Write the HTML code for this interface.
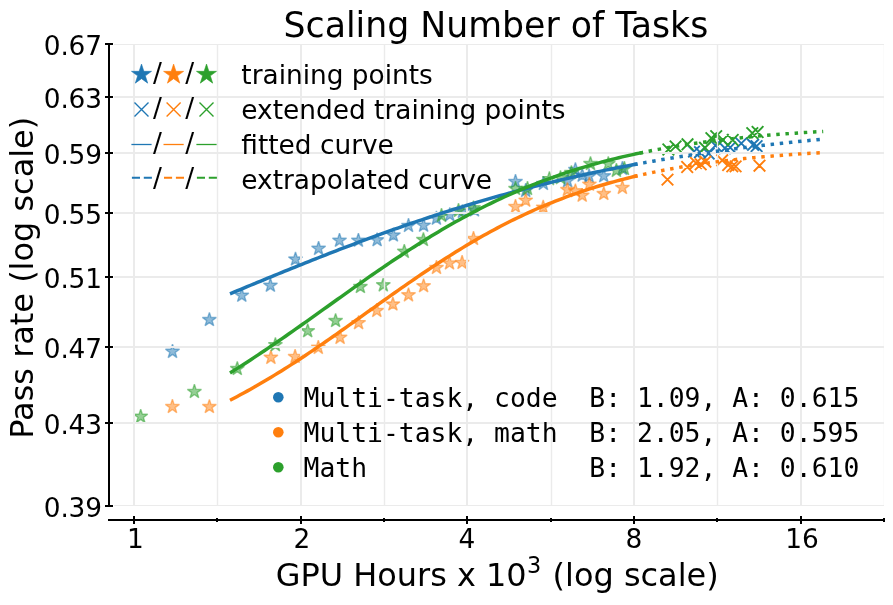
<!DOCTYPE html>
<html lang="en"><head><meta charset="utf-8"><title>Scaling Number of Tasks</title>
<style>html,body{margin:0;padding:0;background:#fff}body{width:893px;height:605px;overflow:hidden}svg{display:block;will-change:transform}text{font-family:"DejaVu Sans","Liberation Sans",sans-serif;fill:#000}.mono{font-family:"DejaVu Sans Mono","Liberation Mono",monospace}.tk{font-size:26.39px}.lg{font-size:26.39px}.lb{font-size:31.94px}.tt{font-size:34.72px}</style></head><body>
<svg width="893" height="605" viewBox="0 0 893 605">
<rect width="893" height="605" fill="#fff"/>
<g fill="#1f77b4" stroke="#1f77b4" stroke-width="1.39" stroke-linejoin="bevel" fill-opacity="0.5" stroke-opacity="0.5">
<polygon points="172.50,344.20 174.16,349.31 179.54,349.31 175.19,352.47 176.85,357.59 172.50,354.43 168.15,357.59 169.81,352.47 165.46,349.31 170.84,349.31"/>
<polygon points="209.40,312.40 211.06,317.51 216.44,317.51 212.09,320.67 213.75,325.79 209.40,322.63 205.05,325.79 206.71,320.67 202.36,317.51 207.74,317.51"/>
<polygon points="241.80,288.10 243.46,293.21 248.84,293.21 244.49,296.37 246.15,301.49 241.80,298.33 237.45,301.49 239.11,296.37 234.76,293.21 240.14,293.21"/>
<polygon points="270.40,278.10 272.06,283.21 277.44,283.21 273.09,286.37 274.75,291.49 270.40,288.33 266.05,291.49 267.71,286.37 263.36,283.21 268.74,283.21"/>
<polygon points="295.50,251.90 297.16,257.01 302.54,257.01 298.19,260.17 299.85,265.29 295.50,262.13 291.15,265.29 292.81,260.17 288.46,257.01 293.84,257.01"/>
<polygon points="318.60,241.20 320.26,246.31 325.64,246.31 321.29,249.47 322.95,254.59 318.60,251.43 314.25,254.59 315.91,249.47 311.56,246.31 316.94,246.31"/>
<polygon points="339.50,233.10 341.16,238.21 346.54,238.21 342.19,241.37 343.85,246.49 339.50,243.33 335.15,246.49 336.81,241.37 332.46,238.21 337.84,238.21"/>
<polygon points="358.40,233.10 360.06,238.21 365.44,238.21 361.09,241.37 362.75,246.49 358.40,243.33 354.05,246.49 355.71,241.37 351.36,238.21 356.74,238.21"/>
<polygon points="377.10,232.60 378.76,237.71 384.14,237.71 379.79,240.87 381.45,245.99 377.10,242.83 372.75,245.99 374.41,240.87 370.06,237.71 375.44,237.71"/>
<polygon points="393.40,227.90 395.06,233.01 400.44,233.01 396.09,236.17 397.75,241.29 393.40,238.13 389.05,241.29 390.71,236.17 386.36,233.01 391.74,233.01"/>
<polygon points="408.50,218.30 410.16,223.41 415.54,223.41 411.19,226.57 412.85,231.69 408.50,228.53 404.15,231.69 405.81,226.57 401.46,223.41 406.84,223.41"/>
<polygon points="423.60,218.00 425.26,223.11 430.64,223.11 426.29,226.27 427.95,231.39 423.60,228.23 419.25,231.39 420.91,226.27 416.56,223.11 421.94,223.11"/>
<polygon points="436.40,211.00 438.06,216.11 443.44,216.11 439.09,219.27 440.75,224.39 436.40,221.23 432.05,224.39 433.71,219.27 429.36,216.11 434.74,216.11"/>
<polygon points="449.80,207.50 451.46,212.61 456.84,212.61 452.49,215.77 454.15,220.89 449.80,217.73 445.45,220.89 447.11,215.77 442.76,212.61 448.14,212.61"/>
<polygon points="462.40,204.40 464.06,209.51 469.44,209.51 465.09,212.67 466.75,217.79 462.40,214.63 458.05,217.79 459.71,212.67 455.36,209.51 460.74,209.51"/>
<polygon points="474.50,202.90 476.16,208.01 481.54,208.01 477.19,211.17 478.85,216.29 474.50,213.13 470.15,216.29 471.81,211.17 467.46,208.01 472.84,208.01"/>
<polygon points="515.50,174.30 517.16,179.41 522.54,179.41 518.19,182.57 519.85,187.69 515.50,184.53 511.15,187.69 512.81,182.57 508.46,179.41 513.84,179.41"/>
<polygon points="525.70,183.30 527.36,188.41 532.74,188.41 528.39,191.57 530.05,196.69 525.70,193.53 521.35,196.69 523.01,191.57 518.66,188.41 524.04,188.41"/>
<polygon points="543.40,176.30 545.06,181.41 550.44,181.41 546.09,184.57 547.75,189.69 543.40,186.53 539.05,189.69 540.71,184.57 536.36,181.41 541.74,181.41"/>
<polygon points="567.60,173.50 569.26,178.61 574.64,178.61 570.29,181.77 571.95,186.89 567.60,183.73 563.25,186.89 564.91,181.77 560.56,178.61 565.94,178.61"/>
<polygon points="575.40,162.40 577.06,167.51 582.44,167.51 578.09,170.67 579.75,175.79 575.40,172.63 571.05,175.79 572.71,170.67 568.36,167.51 573.74,167.51"/>
<polygon points="582.20,168.00 583.86,173.11 589.24,173.11 584.89,176.27 586.55,181.39 582.20,178.23 577.85,181.39 579.51,176.27 575.16,173.11 580.54,173.11"/>
<polygon points="589.10,168.80 590.76,173.91 596.14,173.91 591.79,177.07 593.45,182.19 589.10,179.03 584.75,182.19 586.41,177.07 582.06,173.91 587.44,173.91"/>
<polygon points="603.80,168.60 605.46,173.71 610.84,173.71 606.49,176.87 608.15,181.99 603.80,178.83 599.45,181.99 601.11,176.87 596.76,173.71 602.14,173.71"/>
<polygon points="622.40,161.20 624.06,166.31 629.44,166.31 625.09,169.47 626.75,174.59 622.40,171.43 618.05,174.59 619.71,169.47 615.36,166.31 620.74,166.31"/>
</g>
<path d="M688.20 145.80L699.80 157.40M688.20 157.40L699.80 145.80M694.20 146.40L705.80 158.00M694.20 158.00L705.80 146.40M702.90 147.80L714.50 159.40M702.90 159.40L714.50 147.80M709.70 139.70L721.30 151.30M709.70 151.30L721.30 139.70M719.10 142.40L730.70 154.00M719.10 154.00L730.70 142.40M724.40 141.70L736.00 153.30M724.40 153.30L736.00 141.70M735.50 137.60L747.10 149.20M735.50 149.20L747.10 137.60M747.30 139.00L758.90 150.60M747.30 150.60L758.90 139.00M750.80 140.30L762.40 151.90M750.80 151.90L762.40 140.30" stroke="#1f77b4" stroke-width="1.9" fill="none"/>
<g fill="#ff7f0e" stroke="#ff7f0e" stroke-width="1.39" stroke-linejoin="bevel" fill-opacity="0.5" stroke-opacity="0.5">
<polygon points="172.40,399.30 174.06,404.41 179.44,404.41 175.09,407.57 176.75,412.69 172.40,409.53 168.05,412.69 169.71,407.57 165.36,404.41 170.74,404.41"/>
<polygon points="209.40,399.40 211.06,404.51 216.44,404.51 212.09,407.67 213.75,412.79 209.40,409.63 205.05,412.79 206.71,407.67 202.36,404.51 207.74,404.51"/>
<polygon points="270.90,350.20 272.56,355.31 277.94,355.31 273.59,358.47 275.25,363.59 270.90,360.43 266.55,363.59 268.21,358.47 263.86,355.31 269.24,355.31"/>
<polygon points="295.10,349.30 296.76,354.41 302.14,354.41 297.79,357.57 299.45,362.69 295.10,359.53 290.75,362.69 292.41,357.57 288.06,354.41 293.44,354.41"/>
<polygon points="318.30,340.20 319.96,345.31 325.34,345.31 320.99,348.47 322.65,353.59 318.30,350.43 313.95,353.59 315.61,348.47 311.26,345.31 316.64,345.31"/>
<polygon points="340.10,330.20 341.76,335.31 347.14,335.31 342.79,338.47 344.45,343.59 340.10,340.43 335.75,343.59 337.41,338.47 333.06,335.31 338.44,335.31"/>
<polygon points="358.60,315.50 360.26,320.61 365.64,320.61 361.29,323.77 362.95,328.89 358.60,325.73 354.25,328.89 355.91,323.77 351.56,320.61 356.94,320.61"/>
<polygon points="376.80,303.30 378.46,308.41 383.84,308.41 379.49,311.57 381.15,316.69 376.80,313.53 372.45,316.69 374.11,311.57 369.76,308.41 375.14,308.41"/>
<polygon points="392.90,296.90 394.56,302.01 399.94,302.01 395.59,305.17 397.25,310.29 392.90,307.13 388.55,310.29 390.21,305.17 385.86,302.01 391.24,302.01"/>
<polygon points="408.50,287.70 410.16,292.81 415.54,292.81 411.19,295.97 412.85,301.09 408.50,297.93 404.15,301.09 405.81,295.97 401.46,292.81 406.84,292.81"/>
<polygon points="423.60,278.60 425.26,283.71 430.64,283.71 426.29,286.87 427.95,291.99 423.60,288.83 419.25,291.99 420.91,286.87 416.56,283.71 421.94,283.71"/>
<polygon points="436.50,260.30 438.16,265.41 443.54,265.41 439.19,268.57 440.85,273.69 436.50,270.53 432.15,273.69 433.81,268.57 429.46,265.41 434.84,265.41"/>
<polygon points="449.50,255.80 451.16,260.91 456.54,260.91 452.19,264.07 453.85,269.19 449.50,266.03 445.15,269.19 446.81,264.07 442.46,260.91 447.84,260.91"/>
<polygon points="462.10,255.30 463.76,260.41 469.14,260.41 464.79,263.57 466.45,268.69 462.10,265.53 457.75,268.69 459.41,263.57 455.06,260.41 460.44,260.41"/>
<polygon points="473.50,231.30 475.16,236.41 480.54,236.41 476.19,239.57 477.85,244.69 473.50,241.53 469.15,244.69 470.81,239.57 466.46,236.41 471.84,236.41"/>
<polygon points="515.50,199.30 517.16,204.41 522.54,204.41 518.19,207.57 519.85,212.69 515.50,209.53 511.15,212.69 512.81,207.57 508.46,204.41 513.84,204.41"/>
<polygon points="525.70,193.00 527.36,198.11 532.74,198.11 528.39,201.27 530.05,206.39 525.70,203.23 521.35,206.39 523.01,201.27 518.66,198.11 524.04,198.11"/>
<polygon points="543.20,200.00 544.86,205.11 550.24,205.11 545.89,208.27 547.55,213.39 543.20,210.23 538.85,213.39 540.51,208.27 536.16,205.11 541.54,205.11"/>
<polygon points="567.40,182.40 569.06,187.51 574.44,187.51 570.09,190.67 571.75,195.79 567.40,192.63 563.05,195.79 564.71,190.67 560.36,187.51 565.74,187.51"/>
<polygon points="575.40,183.60 577.06,188.71 582.44,188.71 578.09,191.87 579.75,196.99 575.40,193.83 571.05,196.99 572.71,191.87 568.36,188.71 573.74,188.71"/>
<polygon points="582.20,188.10 583.86,193.21 589.24,193.21 584.89,196.37 586.55,201.49 582.20,198.33 577.85,201.49 579.51,196.37 575.16,193.21 580.54,193.21"/>
<polygon points="589.40,177.10 591.06,182.21 596.44,182.21 592.09,185.37 593.75,190.49 589.40,187.33 585.05,190.49 586.71,185.37 582.36,182.21 587.74,182.21"/>
<polygon points="603.80,186.40 605.46,191.51 610.84,191.51 606.49,194.67 608.15,199.79 603.80,196.63 599.45,199.79 601.11,194.67 596.76,191.51 602.14,191.51"/>
<polygon points="622.40,180.30 624.06,185.41 629.44,185.41 625.09,188.57 626.75,193.69 622.40,190.53 618.05,193.69 619.71,188.57 615.36,185.41 620.74,185.41"/>
</g>
<path d="M661.70 173.80L673.30 185.40M661.70 185.40L673.30 173.80M681.40 161.20L693.00 172.80M681.40 172.80L693.00 161.20M690.20 157.20L701.80 168.80M690.20 168.80L701.80 157.20M694.90 158.50L706.50 170.10M694.90 170.10L706.50 158.50M699.60 155.90L711.20 167.50M699.60 167.50L711.20 155.90M716.40 154.50L728.00 166.10M716.40 166.10L728.00 154.50M722.40 159.20L734.00 170.80M722.40 170.80L734.00 159.20M726.50 160.60L738.10 172.20M726.50 172.20L738.10 160.60M729.80 160.60L741.40 172.20M729.80 172.20L741.40 160.60M753.70 159.90L765.30 171.50M753.70 171.50L765.30 159.90" stroke="#ff7f0e" stroke-width="1.9" fill="none"/>
<g fill="#2ca02c" stroke="#2ca02c" stroke-width="1.39" stroke-linejoin="bevel" fill-opacity="0.5" stroke-opacity="0.5">
<polygon points="140.70,409.20 142.36,414.31 147.74,414.31 143.39,417.47 145.05,422.59 140.70,419.43 136.35,422.59 138.01,417.47 133.66,414.31 139.04,414.31"/>
<polygon points="194.40,384.30 196.06,389.41 201.44,389.41 197.09,392.57 198.75,397.69 194.40,394.53 190.05,397.69 191.71,392.57 187.36,389.41 192.74,389.41"/>
<polygon points="237.30,361.40 238.96,366.51 244.34,366.51 239.99,369.67 241.65,374.79 237.30,371.63 232.95,374.79 234.61,369.67 230.26,366.51 235.64,366.51"/>
<polygon points="275.40,337.50 277.06,342.61 282.44,342.61 278.09,345.77 279.75,350.89 275.40,347.73 271.05,350.89 272.71,345.77 268.36,342.61 273.74,342.61"/>
<polygon points="307.70,323.60 309.36,328.71 314.74,328.71 310.39,331.87 312.05,336.99 307.70,333.83 303.35,336.99 305.01,331.87 300.66,328.71 306.04,328.71"/>
<polygon points="335.60,313.40 337.26,318.51 342.64,318.51 338.29,321.67 339.95,326.79 335.60,323.63 331.25,326.79 332.91,321.67 328.56,318.51 333.94,318.51"/>
<polygon points="360.40,279.40 362.06,284.51 367.44,284.51 363.09,287.67 364.75,292.79 360.40,289.63 356.05,292.79 357.71,287.67 353.36,284.51 358.74,284.51"/>
<polygon points="383.30,277.70 384.96,282.81 390.34,282.81 385.99,285.97 387.65,291.09 383.30,287.93 378.95,291.09 380.61,285.97 376.26,282.81 381.64,282.81"/>
<polygon points="404.30,244.20 405.96,249.31 411.34,249.31 406.99,252.47 408.65,257.59 404.30,254.43 399.95,257.59 401.61,252.47 397.26,249.31 402.64,249.31"/>
<polygon points="423.40,232.40 425.06,237.51 430.44,237.51 426.09,240.67 427.75,245.79 423.40,242.63 419.05,245.79 420.71,240.67 416.36,237.51 421.74,237.51"/>
<polygon points="441.50,208.20 443.16,213.31 448.54,213.31 444.19,216.47 445.85,221.59 441.50,218.43 437.15,221.59 438.81,216.47 434.46,213.31 439.84,213.31"/>
<polygon points="458.50,203.30 460.16,208.41 465.54,208.41 461.19,211.57 462.85,216.69 458.50,213.53 454.15,216.69 455.81,211.57 451.46,208.41 456.84,208.41"/>
<polygon points="473.50,200.60 475.16,205.71 480.54,205.71 476.19,208.87 477.85,213.99 473.50,210.83 469.15,213.99 470.81,208.87 466.46,205.71 471.84,205.71"/>
<polygon points="515.50,181.30 517.16,186.41 522.54,186.41 518.19,189.57 519.85,194.69 515.50,191.53 511.15,194.69 512.81,189.57 508.46,186.41 513.84,186.41"/>
<polygon points="527.50,181.30 529.16,186.41 534.54,186.41 530.19,189.57 531.85,194.69 527.50,191.53 523.15,194.69 524.81,189.57 520.46,186.41 525.84,186.41"/>
<polygon points="549.40,171.50 551.06,176.61 556.44,176.61 552.09,179.77 553.75,184.89 549.40,181.73 545.05,184.89 546.71,179.77 542.36,176.61 547.74,176.61"/>
<polygon points="560.50,170.50 562.16,175.61 567.54,175.61 563.19,178.77 564.85,183.89 560.50,180.73 556.15,183.89 557.81,178.77 553.46,175.61 558.84,175.61"/>
<polygon points="571.40,165.40 573.06,170.51 578.44,170.51 574.09,173.67 575.75,178.79 571.40,175.63 567.05,178.79 568.71,173.67 564.36,170.51 569.74,170.51"/>
<polygon points="590.50,156.40 592.16,161.51 597.54,161.51 593.19,164.67 594.85,169.79 590.50,166.63 586.15,169.79 587.81,164.67 583.46,161.51 588.84,161.51"/>
<polygon points="608.30,156.40 609.96,161.51 615.34,161.51 610.99,164.67 612.65,169.79 608.30,166.63 603.95,169.79 605.61,164.67 601.26,161.51 606.64,161.51"/>
<polygon points="616.40,163.20 618.06,168.31 623.44,168.31 619.09,171.47 620.75,176.59 616.40,173.43 612.05,176.59 613.71,171.47 609.36,168.31 614.74,168.31"/>
<polygon points="624.40,161.30 626.06,166.41 631.44,166.41 627.09,169.57 628.75,174.69 624.40,171.53 620.05,174.69 621.71,169.57 617.36,166.41 622.74,166.41"/>
</g>
<path d="M662.60 143.70L674.20 155.30M662.60 155.30L674.20 143.70M669.80 140.60L681.40 152.20M669.80 152.20L681.40 140.60M681.70 138.50L693.30 150.10M681.70 150.10L693.30 138.50M699.20 142.00L710.80 153.60M699.20 153.60L710.80 142.00M705.60 132.40L717.20 144.00M705.60 144.00L717.20 132.40M710.40 130.30L722.00 141.90M710.40 141.90L722.00 130.30M717.10 134.20L728.70 145.80M717.10 145.80L728.70 134.20M726.90 134.20L738.50 145.80M726.90 145.80L738.50 134.20M746.50 127.30L758.10 138.90M746.50 138.90L758.10 127.30M751.80 126.20L763.40 137.80M751.80 137.80L763.40 126.20" stroke="#2ca02c" stroke-width="1.9" fill="none"/>
<g stroke="#ebebeb" stroke-width="2" fill="none" shape-rendering="crispEdges">
<line x1="134" y1="44.0" x2="134" y2="506.0"/>
<line x1="301" y1="44.0" x2="301" y2="506.0"/>
<line x1="467" y1="44.0" x2="467" y2="506.0"/>
<line x1="634" y1="44.0" x2="634" y2="506.0"/>
<line x1="801" y1="44.0" x2="801" y2="506.0"/>
<line x1="883.5" y1="44.0" x2="883.5" y2="506.0" stroke-width="1" stroke="#fbfbfb"/>
</g>
<g stroke="#ebebeb" stroke-width="1.39" fill="none">
<line x1="217.5" y1="44.0" x2="217.5" y2="506.0"/>
<line x1="384.5" y1="44.0" x2="384.5" y2="506.0"/>
<line x1="551.5" y1="44.0" x2="551.5" y2="506.0"/>
<line x1="717.5" y1="44.0" x2="717.5" y2="506.0"/>
</g>
<g stroke="#ebebeb" stroke-width="2" fill="none">
<line x1="114.2" y1="44.5" x2="884.0" y2="44.5" stroke-width="1"/>
<line x1="114.2" y1="97" x2="884.0" y2="97"/>
<line x1="114.2" y1="153" x2="884.0" y2="153"/>
<line x1="114.2" y1="213" x2="884.0" y2="213"/>
<line x1="114.2" y1="277" x2="884.0" y2="277"/>
<line x1="114.2" y1="347" x2="884.0" y2="347"/>
<line x1="114.2" y1="423" x2="884.0" y2="423"/>
<line x1="114.2" y1="505.5" x2="884.0" y2="505.5" stroke-width="1"/>
</g>
<path d="M230.00 293.81 L233.42 292.39 L236.85 290.96 L240.27 289.54 L243.70 288.11 L247.12 286.69 L250.55 285.27 L253.97 283.86 L257.40 282.44 L260.82 281.03 L264.25 279.62 L267.67 278.21 L271.10 276.80 L274.52 275.40 L277.95 274.00 L281.37 272.60 L284.80 271.21 L288.22 269.82 L291.65 268.44 L295.07 267.05 L298.50 265.67 L301.92 264.30 L305.35 262.93 L308.77 261.56 L312.20 260.20 L315.62 258.85 L319.05 257.49 L322.47 256.15 L325.89 254.80 L329.32 253.47 L332.74 252.14 L336.17 250.81 L339.59 249.49 L343.02 248.18 L346.44 246.87 L349.87 245.56 L353.29 244.27 L356.72 242.98 L360.14 241.69 L363.57 240.42 L366.99 239.15 L370.42 237.88 L373.84 236.62 L377.27 235.37 L380.69 234.13 L384.12 232.89 L387.54 231.66 L390.97 230.44 L394.39 229.22 L397.82 228.02 L401.24 226.82 L404.67 225.62 L408.09 224.44 L411.52 223.26 L414.94 222.09 L418.36 220.93 L421.79 219.78 L425.21 218.63 L428.64 217.49 L432.06 216.36 L435.49 215.24 L438.91 214.13 L442.34 213.02 L445.76 211.92 L449.19 210.83 L452.61 209.75 L456.04 208.68 L459.46 207.62 L462.89 206.56 L466.31 205.51 L469.74 204.48 L473.16 203.45 L476.59 202.42 L480.01 201.41 L483.44 200.41 L486.86 199.41 L490.29 198.42 L493.71 197.45 L497.14 196.48 L500.56 195.51 L503.98 194.56 L507.41 193.62 L510.83 192.68 L514.26 191.75 L517.68 190.84 L521.11 189.93 L524.53 189.03 L527.96 188.13 L531.38 187.25 L534.81 186.37 L538.23 185.51 L541.66 184.65 L545.08 183.80 L548.51 182.96 L551.93 182.12 L555.36 181.30 L558.78 180.48 L562.21 179.68 L565.63 178.88 L569.06 178.08 L572.48 177.30 L575.91 176.53 L579.33 175.76 L582.76 175.00 L586.18 174.25 L589.61 173.51 L593.03 172.78 L596.45 172.05 L599.88 171.33 L603.30 170.62 L606.73 169.92 L610.15 169.22 L613.58 168.54 L617.00 167.86 L620.43 167.19 L623.85 166.52 L627.28 165.87 L630.70 165.22 L634.13 164.58 L637.55 163.94" stroke="#1f77b4" stroke-width="3.47" fill="none" stroke-linecap="butt" stroke-linejoin="round"/>
<path d="M634.10 164.58 L637.25 164.00 L640.40 163.42 L643.55 162.85 L646.70 162.29 L649.85 161.73 L653.01 161.18 L656.16 160.63 L659.31 160.09 L662.46 159.56 L665.61 159.03 L668.76 158.50 L671.91 157.99 L675.06 157.48 L678.21 156.97 L681.36 156.47 L684.51 155.98 L687.66 155.49 L690.82 155.01 L693.97 154.53 L697.12 154.06 L700.27 153.59 L703.42 153.13 L706.57 152.68 L709.72 152.23 L712.87 151.78 L716.02 151.34 L719.17 150.91 L722.32 150.48 L725.47 150.05 L728.63 149.63 L731.78 149.22 L734.93 148.81 L738.08 148.41 L741.23 148.01 L744.38 147.61 L747.53 147.22 L750.68 146.84 L753.83 146.46 L756.98 146.08 L760.13 145.71 L763.28 145.34 L766.44 144.98 L769.59 144.62 L772.74 144.27 L775.89 143.92 L779.04 143.57 L782.19 143.23 L785.34 142.89 L788.49 142.56 L791.64 142.23 L794.79 141.91 L797.94 141.59 L801.09 141.27 L804.25 140.96 L807.40 140.65 L810.55 140.35 L813.70 140.05 L816.85 139.75 L820.00 139.46" stroke="#1f77b4" stroke-width="3.47" fill="none" stroke-dasharray="3.47 5.73"/>
<path d="M230.00 400.24 L233.42 398.47 L236.85 396.67 L240.27 394.84 L243.70 392.99 L247.12 391.11 L250.55 389.20 L253.97 387.27 L257.40 385.31 L260.82 383.33 L264.25 381.32 L267.67 379.28 L271.10 377.22 L274.52 375.14 L277.95 373.04 L281.37 370.91 L284.80 368.76 L288.22 366.59 L291.65 364.39 L295.07 362.18 L298.50 359.95 L301.92 357.70 L305.35 355.43 L308.77 353.14 L312.20 350.84 L315.62 348.52 L319.05 346.18 L322.47 343.83 L325.89 341.47 L329.32 339.10 L332.74 336.71 L336.17 334.32 L339.59 331.91 L343.02 329.50 L346.44 327.08 L349.87 324.65 L353.29 322.22 L356.72 319.78 L360.14 317.34 L363.57 314.90 L366.99 312.46 L370.42 310.01 L373.84 307.57 L377.27 305.13 L380.69 302.69 L384.12 300.26 L387.54 297.83 L390.97 295.41 L394.39 293.00 L397.82 290.59 L401.24 288.19 L404.67 285.80 L408.09 283.43 L411.52 281.06 L414.94 278.71 L418.36 276.38 L421.79 274.05 L425.21 271.75 L428.64 269.46 L432.06 267.18 L435.49 264.93 L438.91 262.69 L442.34 260.47 L445.76 258.28 L449.19 256.10 L452.61 253.95 L456.04 251.81 L459.46 249.70 L462.89 247.62 L466.31 245.55 L469.74 243.52 L473.16 241.50 L476.59 239.51 L480.01 237.55 L483.44 235.61 L486.86 233.70 L490.29 231.81 L493.71 229.95 L497.14 228.12 L500.56 226.32 L503.98 224.54 L507.41 222.79 L510.83 221.07 L514.26 219.37 L517.68 217.70 L521.11 216.06 L524.53 214.45 L527.96 212.86 L531.38 211.31 L534.81 209.78 L538.23 208.27 L541.66 206.80 L545.08 205.35 L548.51 203.93 L551.93 202.54 L555.36 201.17 L558.78 199.83 L562.21 198.52 L565.63 197.23 L569.06 195.97 L572.48 194.73 L575.91 193.52 L579.33 192.34 L582.76 191.18 L586.18 190.04 L589.61 188.93 L593.03 187.84 L596.45 186.78 L599.88 185.74 L603.30 184.72 L606.73 183.73 L610.15 182.75 L613.58 181.80 L617.00 180.88 L620.43 179.97 L623.85 179.08 L627.28 178.22 L630.70 177.37 L634.13 176.55 L637.55 175.74" stroke="#ff7f0e" stroke-width="3.47" fill="none" stroke-linecap="butt" stroke-linejoin="round"/>
<path d="M634.10 176.55 L637.25 175.81 L640.40 175.09 L643.55 174.38 L646.70 173.68 L649.85 173.01 L653.01 172.34 L656.16 171.69 L659.31 171.06 L662.46 170.44 L665.61 169.84 L668.76 169.25 L671.91 168.67 L675.06 168.10 L678.21 167.55 L681.36 167.02 L684.51 166.49 L687.66 165.98 L690.82 165.48 L693.97 164.99 L697.12 164.51 L700.27 164.04 L703.42 163.59 L706.57 163.15 L709.72 162.71 L712.87 162.29 L716.02 161.88 L719.17 161.47 L722.32 161.08 L725.47 160.70 L728.63 160.32 L731.78 159.96 L734.93 159.60 L738.08 159.26 L741.23 158.92 L744.38 158.59 L747.53 158.27 L750.68 157.95 L753.83 157.65 L756.98 157.35 L760.13 157.06 L763.28 156.77 L766.44 156.50 L769.59 156.23 L772.74 155.96 L775.89 155.71 L779.04 155.46 L782.19 155.21 L785.34 154.98 L788.49 154.74 L791.64 154.52 L794.79 154.30 L797.94 154.09 L801.09 153.88 L804.25 153.67 L807.40 153.48 L810.55 153.28 L813.70 153.09 L816.85 152.91 L820.00 152.73" stroke="#ff7f0e" stroke-width="3.47" fill="none" stroke-dasharray="3.47 5.73"/>
<path d="M230.00 372.94 L233.47 370.78 L236.94 368.60 L240.41 366.40 L243.88 364.18 L247.36 361.94 L250.83 359.68 L254.30 357.40 L257.77 355.11 L261.24 352.80 L264.71 350.47 L268.18 348.13 L271.65 345.77 L275.12 343.40 L278.59 341.02 L282.07 338.62 L285.54 336.21 L289.01 333.79 L292.48 331.36 L295.95 328.93 L299.42 326.48 L302.89 324.03 L306.36 321.57 L309.83 319.10 L313.30 316.63 L316.78 314.15 L320.25 311.68 L323.72 309.20 L327.19 306.72 L330.66 304.23 L334.13 301.75 L337.60 299.28 L341.07 296.80 L344.54 294.33 L348.02 291.86 L351.49 289.40 L354.96 286.94 L358.43 284.49 L361.90 282.05 L365.37 279.61 L368.84 277.19 L372.31 274.78 L375.78 272.38 L379.25 269.99 L382.73 267.61 L386.20 265.25 L389.67 262.90 L393.14 260.56 L396.61 258.25 L400.08 255.95 L403.55 253.66 L407.02 251.40 L410.49 249.15 L413.96 246.92 L417.44 244.71 L420.91 242.52 L424.38 240.35 L427.85 238.21 L431.32 236.08 L434.79 233.98 L438.26 231.90 L441.73 229.84 L445.20 227.81 L448.67 225.80 L452.15 223.81 L455.62 221.85 L459.09 219.91 L462.56 218.00 L466.03 216.11 L469.50 214.25 L472.97 212.41 L476.44 210.60 L479.91 208.82 L483.39 207.06 L486.86 205.32 L490.33 203.61 L493.80 201.93 L497.27 200.28 L500.74 198.65 L504.21 197.04 L507.68 195.46 L511.15 193.91 L514.62 192.39 L518.10 190.89 L521.57 189.41 L525.04 187.96 L528.51 186.54 L531.98 185.14 L535.45 183.77 L538.92 182.42 L542.39 181.09 L545.86 179.80 L549.33 178.52 L552.81 177.27 L556.28 176.04 L559.75 174.84 L563.22 173.66 L566.69 172.50 L570.16 171.37 L573.63 170.26 L577.10 169.17 L580.57 168.11 L584.05 167.06 L587.52 166.04 L590.99 165.04 L594.46 164.06 L597.93 163.10 L601.40 162.16 L604.87 161.24 L608.34 160.34 L611.81 159.46 L615.28 158.60 L618.76 157.76 L622.23 156.93 L625.70 156.13 L629.17 155.34 L632.64 154.57 L636.11 153.82 L639.58 153.08 L643.05 152.36" stroke="#2ca02c" stroke-width="3.47" fill="none" stroke-linecap="butt" stroke-linejoin="round"/>
<path d="M639.60 153.08 L642.71 152.43 L645.82 151.80 L648.94 151.18 L652.05 150.57 L655.16 149.98 L658.27 149.40 L661.38 148.83 L664.49 148.27 L667.61 147.73 L670.72 147.19 L673.83 146.67 L676.94 146.16 L680.05 145.66 L683.17 145.17 L686.28 144.69 L689.39 144.22 L692.50 143.76 L695.61 143.31 L698.73 142.87 L701.84 142.44 L704.95 142.02 L708.06 141.61 L711.17 141.21 L714.28 140.82 L717.40 140.43 L720.51 140.05 L723.62 139.69 L726.73 139.33 L729.84 138.97 L732.96 138.63 L736.07 138.29 L739.18 137.97 L742.29 137.64 L745.40 137.33 L748.52 137.02 L751.63 136.72 L754.74 136.43 L757.85 136.14 L760.96 135.86 L764.07 135.59 L767.19 135.32 L770.30 135.06 L773.41 134.80 L776.52 134.55 L779.63 134.31 L782.75 134.07 L785.86 133.84 L788.97 133.61 L792.08 133.39 L795.19 133.17 L798.31 132.96 L801.42 132.75 L804.53 132.55 L807.64 132.35 L810.75 132.16 L813.86 131.97 L816.98 131.78 L820.09 131.60 L823.20 131.43" stroke="#2ca02c" stroke-width="3.47" fill="none" stroke-dasharray="3.47 5.73"/>
<g stroke="#000" stroke-width="2" fill="none" stroke-linecap="butt" shape-rendering="crispEdges">
<line x1="109" y1="43" x2="109" y2="507"/>
<line x1="108" y1="520" x2="885" y2="520"/>
<line x1="105" y1="44" x2="113" y2="44"/>
<line x1="105" y1="97" x2="113" y2="97"/>
<line x1="105" y1="153" x2="113" y2="153"/>
<line x1="105" y1="213" x2="113" y2="213"/>
<line x1="105" y1="277" x2="113" y2="277"/>
<line x1="105" y1="347" x2="113" y2="347"/>
<line x1="105" y1="423" x2="113" y2="423"/>
<line x1="105" y1="506" x2="113" y2="506"/>
<line x1="134" y1="516" x2="134" y2="524"/>
<line x1="217" y1="518" x2="217" y2="522"/>
<line x1="301" y1="516" x2="301" y2="524"/>
<line x1="384" y1="518" x2="384" y2="522"/>
<line x1="467" y1="516" x2="467" y2="524"/>
<line x1="551" y1="518" x2="551" y2="522"/>
<line x1="634" y1="516" x2="634" y2="524"/>
<line x1="717" y1="518" x2="717" y2="522"/>
<line x1="801" y1="516" x2="801" y2="524"/>
<line x1="884" y1="518" x2="884" y2="522"/>
</g>
<text class="tk" x="101.8" y="54.70" text-anchor="end" letter-spacing="-0.2">0.67</text>
<text class="tk" x="101.8" y="107.70" text-anchor="end" letter-spacing="-0.2">0.63</text>
<text class="tk" x="101.8" y="163.70" text-anchor="end" letter-spacing="-0.2">0.59</text>
<text class="tk" x="101.8" y="223.70" text-anchor="end" letter-spacing="-0.2">0.55</text>
<text class="tk" x="101.8" y="287.70" text-anchor="end" letter-spacing="-0.2">0.51</text>
<text class="tk" x="101.8" y="357.70" text-anchor="end" letter-spacing="-0.2">0.47</text>
<text class="tk" x="101.8" y="433.70" text-anchor="end" letter-spacing="-0.2">0.43</text>
<text class="tk" x="101.8" y="516.70" text-anchor="end" letter-spacing="-0.2">0.39</text>
<text class="tk" x="135.30" y="547.8" text-anchor="middle">1</text>
<text class="tk" x="301.90" y="547.8" text-anchor="middle">2</text>
<text class="tk" x="467.00" y="547.8" text-anchor="middle">4</text>
<text class="tk" x="634.00" y="547.8" text-anchor="middle">8</text>
<text class="tk" x="802.00" y="547.8" text-anchor="middle">16</text>
<text class="tt" x="495.9" y="37.3" text-anchor="middle">Scaling Number of Tasks</text>
<text class="lb" x="275.7" y="585.6">GPU Hours x 10<tspan x="526.9" dy="-12.2" font-size="22.36px">3</tspan><tspan x="552.6" dy="12.2">(log scale)</tspan></text>
<text class="lb" transform="translate(33.0,438.7) rotate(-90)">Pass rate (log scale)</text>
<text class="lg" x="241.3" y="83.6">training points</text>
<text class="lg" x="153.0" y="81.70">/</text>
<text class="lg" x="185.2" y="81.70">/</text>
<text class="lg" x="241.3" y="118.8">extended training points</text>
<text class="lg" x="153.0" y="116.90">/</text>
<text class="lg" x="185.2" y="116.90">/</text>
<text class="lg" x="241.3" y="154.0">fitted curve</text>
<text class="lg" x="153.0" y="152.00">/</text>
<text class="lg" x="185.2" y="152.00">/</text>
<text class="lg" x="241.3" y="189.2">extrapolated curve</text>
<text class="lg" x="153.0" y="186.80">/</text>
<text class="lg" x="185.2" y="186.80">/</text>
<polygon points="141.50,64.05 143.87,71.34 151.53,71.34 145.33,75.85 147.70,83.14 141.50,78.63 135.30,83.14 137.67,75.85 131.47,71.34 139.13,71.34" fill="#1f77b4" stroke="#1f77b4" stroke-width="0.6" stroke-linejoin="bevel"/>
<path d="M134.5 102.5L148.5 116.5M134.5 116.5L148.5 102.5" stroke="#1f77b4" stroke-width="1.4" fill="none"/>
<line x1="131.4" y1="144.5" x2="151.6" y2="144.5" stroke="#1f77b4" stroke-width="1.3"/>
<path d="M131.9 177.8h8.1M143.8 177.8h8.1" stroke="#1f77b4" stroke-width="2.0" fill="none"/>
<polygon points="173.60,64.05 175.97,71.34 183.63,71.34 177.43,75.85 179.80,83.14 173.60,78.63 167.40,83.14 169.77,75.85 163.57,71.34 171.23,71.34" fill="#ff7f0e" stroke="#ff7f0e" stroke-width="0.6" stroke-linejoin="bevel"/>
<path d="M166.6 102.5L180.6 116.5M166.6 116.5L180.6 102.5" stroke="#ff7f0e" stroke-width="1.4" fill="none"/>
<line x1="163.5" y1="144.5" x2="183.7" y2="144.5" stroke="#ff7f0e" stroke-width="1.3"/>
<path d="M164.0 177.8h8.1M175.9 177.8h8.1" stroke="#ff7f0e" stroke-width="2.0" fill="none"/>
<polygon points="206.50,64.05 208.87,71.34 216.53,71.34 210.33,75.85 212.70,83.14 206.50,78.63 200.30,83.14 202.67,75.85 196.47,71.34 204.13,71.34" fill="#2ca02c" stroke="#2ca02c" stroke-width="0.6" stroke-linejoin="bevel"/>
<path d="M199.5 102.5L213.5 116.5M199.5 116.5L213.5 102.5" stroke="#2ca02c" stroke-width="1.4" fill="none"/>
<line x1="196.4" y1="144.5" x2="216.6" y2="144.5" stroke="#2ca02c" stroke-width="1.3"/>
<path d="M196.9 177.8h8.1M208.8 177.8h8.1" stroke="#2ca02c" stroke-width="2.0" fill="none"/>
<circle cx="278.3" cy="397.3" r="5.3" fill="#1f77b4"/>
<text class="lg mono" x="303.5" y="406.8" xml:space="preserve">Multi-task, code  B: 1.09, A: 0.615</text>
<circle cx="278.3" cy="432.2" r="5.3" fill="#ff7f0e"/>
<text class="lg mono" x="303.5" y="441.7" xml:space="preserve">Multi-task, math  B: 2.05, A: 0.595</text>
<circle cx="278.3" cy="467.2" r="5.3" fill="#2ca02c"/>
<text class="lg mono" x="303.5" y="476.9" xml:space="preserve">Math              B: 1.92, A: 0.610</text>
</svg></body></html>
